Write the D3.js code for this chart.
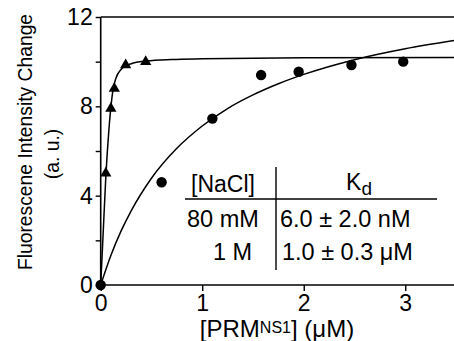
<!DOCTYPE html>
<html><head><meta charset="utf-8">
<script src="https://cdn.jsdelivr.net/npm/d3@7"></script>
<style>body{margin:0;background:#fff}svg{display:block}text{font-family:Arial,"Liberation Sans",sans-serif;fill:#000}</style>
</head><body><svg id="c" width="454" height="341"></svg>
<script>
// data
const tri_x = [0, 0.05, 0.10, 0.134, 0.246, 0.443];
const tri_y = [0, 5.0, 7.9, 8.8, 9.85, 10.0];
const circ_x = [0, 0.6, 1.1, 1.58, 1.95, 2.47, 2.98];
const circ_y = [0, 4.6, 7.45, 9.4, 9.55, 9.85, 10.0];
// fitted curves
const fitTri_x = [0, 0.02, 0.05, 0.08, 0.10, 0.12, 0.15, 0.20, 0.25, 0.30, 0.45, 0.70, 1.0, 2.0, 3.5];
const fitTri_y = [0, 1.9, 4.8, 6.9, 7.95, 8.7, 9.26, 9.65, 9.82, 9.91, 10.03, 10.1, 10.13, 10.17, 10.19];
const fitCirc_x = [0, 0.1, 0.2, 0.3, 0.5, 0.75, 1.0, 1.25, 1.5, 1.75, 2.0, 2.5, 3.0, 3.5];
const fitCirc_y = [0, 1.32, 2.41, 3.32, 4.78, 6.12, 7.12, 7.90, 8.51, 9.01, 9.43, 10.09, 10.58, 10.96];
const xTicks = [0, 1, 2, 3];
const yTicks = [0, 4, 8, 12];
const yMinor = [2, 6, 10];
const tableHead = ["[NaCl]", "K"];
const tableRows = [["80 mM", "6.0 ± 2.0 nM"], ["1 M", "1.0 ± 0.3 μM"]];

const svg = d3.select("#c");
const x = d3.scaleLinear().domain([0, 3.49]).range([100.7, 455]);
const y = d3.scaleLinear().domain([0, 12]).range([285, 17]);

// axes
const xAxis = svg.append("g").attr("transform", `translate(0,${y(0)})`)
  .call(d3.axisBottom(x).tickValues(xTicks).tickSize(6).tickPadding(4).tickFormat(d3.format("d")));
const yAxis = svg.append("g").attr("transform", `translate(${x(0)},0)`)
  .call(d3.axisLeft(y).tickValues(yTicks).tickSize(5).tickPadding(3).tickFormat(d3.format("d")));
const yMin = svg.append("g").attr("transform", `translate(${x(0)},0)`)
  .call(d3.axisLeft(y).tickValues(yMinor).tickSize(5).tickFormat(""));
yMin.select(".domain").remove();
svg.selectAll(".domain").attr("stroke", "#000").attr("stroke-width", 1.6);
svg.selectAll(".tick line").attr("stroke", "#000").attr("stroke-width", 1.4);
svg.selectAll(".tick text").attr("font-size", 23).attr("font-family", "Arial, 'Liberation Sans', sans-serif");
xAxis.select(".domain").attr("d", `M${x(0)},0H455`);
yAxis.select(".domain").attr("d", `M0,${y(0)}V${y(12)}`);
// top frame line
svg.append("line").attr("x1", x(0)).attr("x2", 455).attr("y1", y(12)).attr("y2", y(12))
  .attr("stroke", "#000").attr("stroke-width", 1.6);

// curves
const line = d3.line().curve(d3.curveMonotoneX);
svg.append("clipPath").attr("id", "clp").append("rect")
  .attr("x", x(0)).attr("y", y(12)).attr("width", 360).attr("height", y(0) - y(12));
svg.append("path").datum(fitTri_x.map((v,i)=>[x(v), y(fitTri_y[i])]))
  .attr("d", line).attr("fill", "none").attr("stroke", "#000").attr("stroke-width", 1.5).attr("clip-path", "url(#clp)");
svg.append("path").datum(fitCirc_x.map((v,i)=>[x(v), y(fitCirc_y[i])]))
  .attr("d", line).attr("fill", "none").attr("stroke", "#000").attr("stroke-width", 1.5).attr("clip-path", "url(#clp)");

// markers
const triSym = d3.symbol().type(d3.symbolTriangle).size(55);
svg.selectAll(".tri").data(tri_x.slice(1).map((v,i)=>[v, tri_y[i+1]])).enter().append("path")
  .attr("transform", d=>`translate(${x(d[0])},${y(d[1])})`).attr("d", triSym).attr("fill", "#000");
svg.selectAll(".cir").data(circ_x.map((v,i)=>[v, circ_y[i]])).enter().append("circle")
  .attr("cx", d=>x(d[0])).attr("cy", d=>y(d[1])).attr("r", 5.2).attr("fill", "#000");

// axis titles
svg.append("text").attr("transform", "translate(32,142) rotate(-90)").attr("text-anchor", "middle")
  .attr("font-size", 19.3).text("Fluorescene Intensity Change");
svg.append("text").attr("transform", "translate(59,154) rotate(-90)").attr("text-anchor", "middle")
  .attr("font-size", 19.3).text("(a. u.)");
const xt = svg.append("text").attr("x", 277).attr("y", 337).attr("text-anchor", "middle").attr("font-size", 24);
xt.append("tspan").text("[PRM");
xt.append("tspan").attr("font-size", 16).attr("dy", -4).text("NS1");
xt.append("tspan").attr("dy", 4).text("] (μM)");

// table
svg.append("line").attr("x1", 276).attr("x2", 276).attr("y1", 167).attr("y2", 270).attr("stroke", "#000").attr("stroke-width", 1.4);
svg.append("line").attr("x1", 185).attr("x2", 437).attr("y1", 199).attr("y2", 199).attr("stroke", "#000").attr("stroke-width", 1.4);
svg.append("text").attr("x", 223).attr("y", 192).attr("text-anchor", "middle").attr("font-size", 23).text(tableHead[0]);
const kd = svg.append("text").attr("x", 359).attr("y", 190).attr("text-anchor", "middle").attr("font-size", 23);
kd.append("tspan").text(tableHead[1]);
kd.append("tspan").attr("dy", 5).attr("font-size", 19).text("d");
const rowX0 = [187, 213], rowX1 = [280, 282];
tableRows.forEach((r, i) => {
  svg.append("text").attr("x", rowX0[i]).attr("y", 227 + i*33).attr("font-size", 23.5).text(r[0]);
  svg.append("text").attr("x", rowX1[i]).attr("y", 227 + i*33).attr("font-size", 23.5).text(r[1]);
});
</script></body></html>
